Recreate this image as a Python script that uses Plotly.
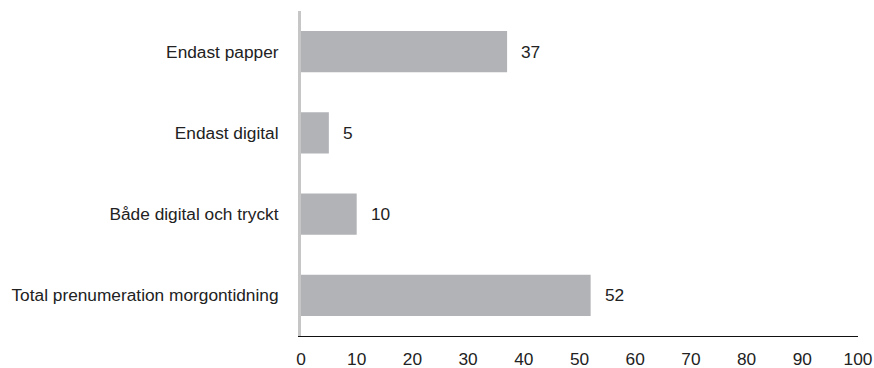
import plotly.graph_objects as go

categories = ["Endast papper", "Endast digital", "Både digital och tryckt", "Total prenumeration morgontidning"]
values = [37, 5, 10, 52]
x_ticks = [0, 10, 20, 30, 40, 50, 60, 70, 80, 90, 100]

font = dict(family="Liberation Sans, Arial, sans-serif", size=17.3, color="#222222")

fig = go.Figure()
fig.add_trace(go.Bar(
    x=values, y=categories, orientation="h",
    marker=dict(color="#b2b3b6", line=dict(width=0)),
    hoverinfo="skip",
))
for c, v in zip(categories, values):
    fig.add_annotation(x=v, y=c, text=str(v), showarrow=False,
                       xanchor="left", xshift=12, font=font)

fig.update_layout(
    width=874, height=368,
    margin=dict(l=301, r=16, t=11, b=32),
    plot_bgcolor="white", paper_bgcolor="white",
    font=font, showlegend=False, bargap=0.495,
    xaxis=dict(range=[0, 100], tickvals=x_ticks, showgrid=False, zeroline=False,
               showline=True, linecolor="#111111", linewidth=1, automargin=False,
               ticks="outside", ticklen=7, tickcolor="rgba(0,0,0,0)", tickfont=font),
    yaxis=dict(autorange="reversed", showgrid=False, zeroline=False, automargin=False,
               showline=True, linecolor="#c6c6c6", linewidth=3,
               ticks="", ticklabelstandoff=16, tickfont=font),
)
fig.write_html("out.html")
